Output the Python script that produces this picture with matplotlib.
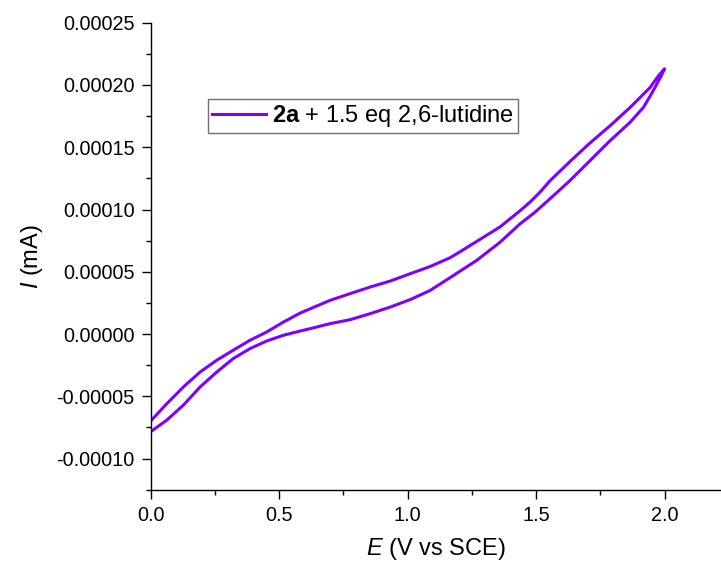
import matplotlib
matplotlib.use("Agg")
import matplotlib.pyplot as plt
import numpy as np
from matplotlib.ticker import FormatStrFormatter, MultipleLocator

plt.rcParams["font.family"] = ["Liberation Sans", "DejaVu Sans"]
plt.rcParams["mathtext.fontset"] = "custom"
plt.rcParams["mathtext.rm"] = "Liberation Sans"
plt.rcParams["mathtext.it"] = "Liberation Sans:italic"
plt.rcParams["mathtext.bf"] = "Liberation Sans:bold"
plt.rcParams["axes.unicode_minus"] = False

# anodic sweep (upper branch), E in V vs SCE, I in 1e-5 mA
forward_e = [0.0, 0.063, 0.128, 0.193, 0.258, 0.322, 0.387, 0.452, 0.517, 0.582,
             0.698, 0.776, 0.854, 0.932, 1.010, 1.088, 1.165, 1.204, 1.282, 1.360,
             1.438, 1.477, 1.516, 1.554, 1.632, 1.710, 1.788, 1.866, 1.944, 1.975, 2.0]
forward_i = [-7.0, -5.6, -4.25, -3.05, -2.1, -1.3, -0.5, 0.16, 0.96, 1.68,
             2.7, 3.24, 3.77, 4.25, 4.84, 5.42, 6.12, 6.6, 7.6, 8.6,
             9.9, 10.6, 11.4, 12.3, 13.85, 15.34, 16.72, 18.19, 19.8, 20.7, 21.3]

# return sweep (lower branch), listed from 2.0 V back to 0 V
reverse_e = [1.989, 1.963, 1.944, 1.918, 1.866, 1.788, 1.710, 1.632, 1.554, 1.496,
             1.438, 1.360, 1.269, 1.165, 1.088, 1.010, 0.932, 0.854, 0.776, 0.698,
             0.621, 0.582, 0.517, 0.452, 0.387, 0.322, 0.258, 0.193, 0.128, 0.063, 0.0]
reverse_i = [20.8, 19.8, 19.1, 18.2, 17.0, 15.52, 13.92, 12.32, 10.85, 9.78,
             8.85, 7.37, 5.91, 4.52, 3.50, 2.76, 2.16, 1.63, 1.15, 0.83,
             0.43, 0.24, -0.10, -0.56, -1.17, -1.97, -3.05, -4.25, -5.71, -6.92, -7.85]

label = r"$\mathbf{2a}$ + 1.5 eq 2,6-lutidine"
color = "#8000FF"

e = np.array(forward_e + reverse_e)
i = np.array(forward_i + reverse_i) * 1e-5

fig = plt.figure(figsize=(7.21, 5.63), dpi=100)
ax = fig.add_axes([150.5 / 721, 1 - 489.7 / 563, (721 - 150.5) / 721, (489.7 - 22.7) / 563])
ax.plot(e, i, color=color, linewidth=2.2, label=label)

ax.set_xlim(0, (721 - 150.5) / 257)
ax.set_ylim(-0.000125, 0.00025)
ax.xaxis.set_major_locator(MultipleLocator(0.5))
ax.xaxis.set_minor_locator(MultipleLocator(0.25))
ax.yaxis.set_major_locator(MultipleLocator(0.00005))
ax.yaxis.set_minor_locator(MultipleLocator(0.000025))
ax.xaxis.set_major_formatter(FormatStrFormatter("%.1f"))
ax.yaxis.set_major_formatter(FormatStrFormatter("%.5f"))

for side in ("top", "right"):
    ax.spines[side].set_visible(False)
for side in ("left", "bottom"):
    ax.spines[side].set_linewidth(1.0)
ax.tick_params(which="major", direction="out", length=6.5, width=1.0, labelsize=14.3)
ax.tick_params(which="minor", direction="out", length=3.5, width=1.0)
ax.tick_params(axis="y", which="major", pad=5)
ax.tick_params(axis="x", which="major", pad=5.5)

ax.set_xlabel(r"$E$ (V vs SCE)", fontsize=17, labelpad=8)
ax.set_ylabel(r"$I$ (mA)", fontsize=17, labelpad=8)

leg = ax.legend(loc="upper left", bbox_to_anchor=(208 / 721, 1 - 99 / 563),
                bbox_transform=fig.transFigure, fontsize=17, frameon=True,
                fancybox=False, framealpha=1, edgecolor="#707070",
                borderpad=0.17, handlelength=2.3, handletextpad=0.25, borderaxespad=0)
leg.get_frame().set_linewidth(1.0)

fig.savefig("out.png", dpi=100)
